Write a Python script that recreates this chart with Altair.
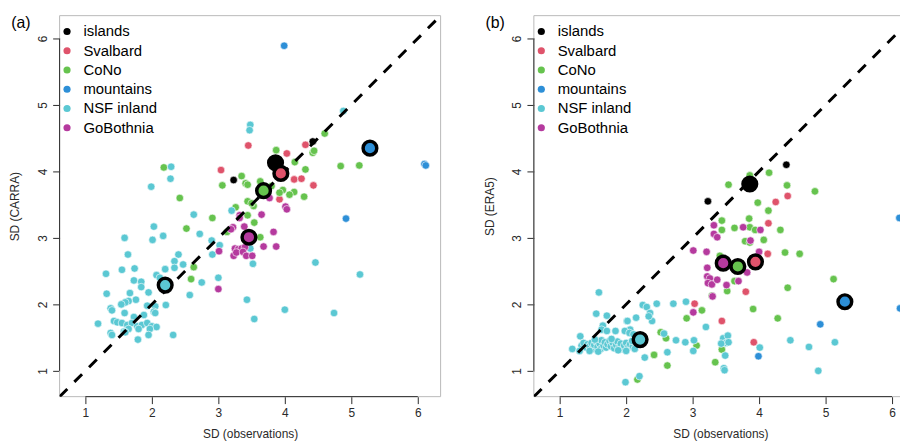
import altair as alt
import pandas as pd

groups = ["islands", "Svalbard", "CoNo", "mountains", "NSF inland", "GoBothnia"]
colors = ["#000000", "#DF536B", "#66C34E", "#2D8FD7", "#5BC8D3", "#B53A9E"]
ticks = [1, 2, 3, 4, 5, 6]

# ---------------- panel (a): SD(observations) vs SD(CARRA) ----------------
carra_islands = [(4.42, 4.45), (3.23, 3.87)]
carra_svalbard = [(3.45, 4.39), (4.31, 4.40), (4.03, 4.27), (3.04, 4.02), (4.14, 3.88),
                  (4.25, 3.89), (4.43, 3.79), (3.92, 3.58)]
carra_cono = [(4.60, 4.57), (4.42, 4.28), (4.44, 4.31), (3.87, 4.32), (4.15, 4.14), (4.31, 4.03),
              (4.84, 4.08), (5.12, 4.09), (3.35, 3.93), (3.41, 3.82), (3.44, 3.80), (3.06, 3.79),
              (3.63, 3.85), (3.97, 3.72), (4.14, 3.69), (4.07, 3.65), (4.29, 3.62), (3.92, 3.68),
              (3.44, 3.55), (3.53, 3.48), (3.26, 3.46), (3.44, 3.34), (3.54, 3.23), (2.91, 3.30),
              (2.52, 3.14), (3.13, 3.09), (3.63, 3.01), (2.18, 4.06), (2.42, 3.60), (2.63, 2.56),
              (2.59, 2.38), (3.80, 3.78), (3.50, 3.52)]
carra_mountains = [(3.99, 5.89), (6.10, 4.11), (6.12, 4.09), (4.92, 3.29)]
carra_nsf = [(4.88, 4.91), (3.48, 4.70), (3.47, 4.62), (2.29, 4.07), (2.28, 3.89), (1.99, 3.77),
             (2.63, 3.35), (3.20, 3.41), (2.72, 3.06), (2.03, 3.17), (1.59, 3.00), (2.01, 2.97),
             (2.17, 3.03), (2.90, 2.96), (3.02, 2.89), (2.91, 2.75), (3.48, 2.84), (3.52, 2.61),
             (4.46, 2.63), (5.13, 2.45), (1.64, 2.75), (2.40, 2.75), (2.34, 2.65), (2.34, 2.55),
             (2.47, 2.60), (1.55, 2.52), (1.74, 2.54), (1.31, 2.46), (2.20, 2.53), (3.00, 2.40),
             (2.75, 2.33), (2.57, 2.14), (3.43, 2.07), (4.00, 1.92), (4.74, 1.87), (3.54, 1.78),
             (2.32, 1.54), (2.07, 2.44), (1.95, 2.18), (1.67, 2.17), (1.32, 2.16), (1.73, 2.36),
             (1.84, 2.34), (1.84, 2.26), (1.76, 2.07), (1.65, 2.05), (1.60, 2.03), (1.54, 2.00),
             (1.93, 1.98), (2.05, 1.97), (2.21, 1.99), (1.38, 1.94), (1.40, 1.91), (1.59, 1.87),
             (1.73, 1.81), (1.88, 1.84), (2.03, 1.89), (2.05, 1.87), (1.19, 1.71), (1.43, 1.75),
             (1.48, 1.73), (1.55, 1.72), (1.63, 1.69), (1.70, 1.72), (1.78, 1.67), (1.85, 1.69),
             (1.93, 1.72), (2.00, 1.67), (2.07, 1.66), (1.97, 1.63), (1.80, 1.63), (1.65, 1.63),
             (1.58, 1.59), (1.95, 1.54), (1.38, 1.57), (1.40, 1.54), (1.60, 1.58), (1.79, 1.47),
             (2.12, 2.40)]
carra_gobothnia = [(3.32, 3.34), (3.32, 3.30), (3.65, 3.35), (4.01, 3.47), (4.03, 3.43), (3.77, 3.60),
                   (3.22, 3.16), (3.39, 3.17), (3.19, 3.13), (3.83, 3.09), (3.87, 2.87), (3.68, 2.87),
                   (3.25, 2.84), (3.30, 2.83), (3.35, 2.84), (3.40, 2.86), (3.23, 2.73), (3.27, 2.78),
                   (3.37, 2.79), (3.42, 2.73), (3.51, 2.73), (3.01, 2.80), (3.00, 2.23)]
carra_mean_x = [3.86, 3.94, 3.68, 5.28, 2.20, 3.46]
carra_mean_y = [4.13, 3.97, 3.71, 4.35, 2.29, 3.01]

# ---------------- panel (b): SD(observations) vs SD(ERA5) ----------------
era5_islands = [(4.41, 4.10), (3.23, 3.55)]
era5_svalbard = [(4.43, 3.63), (4.25, 3.54), (4.14, 3.22), (4.13, 2.76), (3.80, 2.19),
                 (3.03, 2.01), (3.44, 1.75), (3.92, 1.43)]
era5_cono = [(3.54, 3.80), (4.15, 3.98), (3.86, 3.94), (4.42, 3.79), (4.84, 3.70), (3.98, 3.53),
             (4.14, 3.41), (3.44, 3.26), (3.85, 3.29), (3.44, 3.12), (3.63, 3.15), (3.86, 3.16),
             (3.94, 3.12), (4.32, 3.12), (3.79, 2.95), (3.86, 2.93), (4.07, 2.97), (3.41, 2.73),
             (4.39, 2.78), (4.61, 2.76), (3.63, 2.35), (3.52, 2.20), (4.43, 2.25), (3.29, 2.13),
             (5.12, 2.38), (3.14, 1.91), (3.91, 1.93), (2.91, 1.79), (4.28, 1.79), (2.52, 1.58),
             (2.60, 1.49), (3.06, 1.38), (3.44, 1.32), (3.34, 1.13), (2.42, 1.24), (2.62, 1.08),
             (2.17, 0.87)]
era5_mountains = [(6.11, 3.30), (6.12, 1.94), (4.92, 1.70), (3.99, 1.22)]
era5_nsf = [(1.59, 2.18), (1.55, 1.86), (1.71, 1.83), (1.65, 1.68), (1.63, 1.62), (1.71, 1.60),
            (1.84, 1.60), (2.01, 1.75), (2.15, 1.80), (2.06, 1.62), (1.98, 1.60), (2.25, 1.99),
            (2.31, 1.96), (2.36, 1.87), (2.39, 1.75), (2.46, 2.01), (2.34, 1.82), (2.71, 2.01),
            (2.90, 2.04), (3.20, 1.66), (1.31, 1.52), (1.19, 1.33), (2.02, 1.75),
            (1.33, 1.38), (1.36, 1.42), (1.40, 1.35), (1.42, 1.40), (1.45, 1.37), (1.48, 1.42),
            (1.50, 1.33), (1.52, 1.39), (1.55, 1.44), (1.57, 1.36), (1.60, 1.41), (1.62, 1.33),
            (1.63, 1.46), (1.66, 1.38), (1.68, 1.43), (1.70, 1.35), (1.72, 1.40), (1.75, 1.45),
            (1.77, 1.37), (1.80, 1.42), (1.82, 1.34), (1.85, 1.39), (1.87, 1.44), (1.90, 1.36),
            (1.92, 1.41), (1.95, 1.33), (1.97, 1.38), (2.00, 1.42), (2.03, 1.35), (2.06, 1.40),
            (2.10, 1.37), (2.13, 1.33), (1.30, 1.30), (1.45, 1.30), (1.58, 1.29), (1.88, 1.31),
            (2.00, 1.30), (1.78, 1.48), (1.53, 1.47), (2.09, 1.45), (2.05, 1.57), (2.11, 1.55),
            (2.28, 1.20), (2.62, 1.28), (2.75, 1.46), (2.89, 1.43), (3.02, 1.46), (3.01, 1.30),
            (2.57, 1.56), (1.99, 0.83), (2.20, 0.92), (3.46, 1.49), (3.53, 1.53), (3.50, 1.42),
            (3.43, 1.41), (3.54, 1.43), (3.49, 1.23), (3.47, 1.04), (3.48, 1.01), (4.01, 1.35),
            (4.47, 1.46), (4.75, 1.36), (5.14, 1.43), (4.89, 1.00)]
era5_gobothnia = [(3.32, 3.19), (3.76, 3.16), (4.02, 3.12), (3.32, 3.06), (3.37, 3.01), (3.87, 2.96),
                  (3.01, 2.81), (3.21, 2.79), (4.00, 2.79), (3.22, 2.55), (3.82, 2.48), (3.22, 2.42),
                  (3.26, 2.39), (3.23, 2.32), (3.29, 2.30), (3.37, 2.37), (3.69, 2.35), (3.51, 2.29),
                  (3.30, 2.12), (3.01, 1.88)]
era5_mean_x = [3.86, 3.945, 3.68, 5.29, 2.21, 3.46]
era5_mean_y = [3.81, 2.64, 2.57, 2.04, 1.47, 2.62]

panel_tags = ["(a)", "(b)"]

# axis limits
x_lim_a = [0.612, 6.343]
x_lim_b = [0.612, 6.224]
y_lim = [0.612, 6.343]

FONT = "Liberation Sans"
BOX = "#b9b9b9"
INK = "#2a2a2a"


def build_points(series):
    rows = []
    for g, pts in zip(groups, series):
        for (x, y) in pts:
            rows.append({"x": x, "y": y, "group": g})
    return pd.DataFrame(rows)


def panel(series, mean_x, mean_y, xlim, width, ytitle, tag, right_border):
    xs = alt.Scale(domain=xlim, nice=False, zero=False)
    ys = alt.Scale(domain=y_lim, nice=False, zero=False)
    xax = alt.Axis(values=ticks, format="d", title="SD (observations)", domain=False, grid=False,
                   tickSize=7, labelPadding=4, titlePadding=10, labelFlush=False)
    yax = alt.Axis(values=ticks, format="d", title=ytitle, domain=False, grid=False,
                   tickSize=7, labelAngle=270, labelAlign="center", labelBaseline="bottom",
                   labelPadding=3, titlePadding=15, labelFlush=False)
    X = alt.X("x:Q", scale=xs, axis=xax)
    Y = alt.Y("y:Q", scale=ys, axis=yax)
    cscale = alt.Scale(domain=groups, range=colors)

    layers = []
    # light box around the plotting region
    layers.append(alt.Chart(pd.DataFrame({"y": [y_lim[0], y_lim[1]]}))
                  .mark_rule(color=BOX, strokeWidth=1).encode(y=Y))
    xb = [xlim[0], xlim[1]] if right_border else [xlim[0]]
    layers.append(alt.Chart(pd.DataFrame({"x": xb}))
                  .mark_rule(color=BOX, strokeWidth=1).encode(x=X))
    # R-style axis lines spanning the tick range
    layers.append(alt.Chart(pd.DataFrame({"x": [ticks[0]], "x2": [ticks[-1]], "y": [y_lim[0]]}))
                  .mark_rule(color=INK, strokeWidth=1).encode(x=X, x2="x2:Q", y=Y))
    layers.append(alt.Chart(pd.DataFrame({"y": [ticks[0]], "y2": [ticks[-1]], "x": [xlim[0]]}))
                  .mark_rule(color=INK, strokeWidth=1).encode(y=Y, y2="y2:Q", x=X))

    df = build_points(series)
    layers.append(alt.Chart(df).mark_circle(size=58, opacity=1, stroke="white", strokeWidth=0.6)
                  .encode(x=X, y=Y,
                          color=alt.Color("group:N", scale=cscale,
                                          legend=alt.Legend(title=None, orient="none", legendX=0,
                                                            legendY=8.5, padding=0, labelFontSize=15,
                                                            labelFont=FONT, labelColor="black",
                                                            symbolType="circle", symbolSize=52,
                                                            symbolStrokeWidth=0, rowPadding=3.4,
                                                            labelOffset=9))))
    # 1:1 line
    layers.append(alt.Chart(pd.DataFrame({"x": [y_lim[0], 7.0], "y": [y_lim[0], 7.0]}))
                  .mark_line(color="black", strokeDash=[11, 10], strokeWidth=3, clip=True)
                  .encode(x=X, y=Y))
    mdf = pd.DataFrame({"x": mean_x, "y": mean_y, "group": groups})
    layers.append(alt.Chart(mdf).mark_circle(size=190, opacity=1, stroke="black", strokeWidth=3.5)
                  .encode(x=X, y=Y, color=alt.Color("group:N", scale=cscale, legend=None)))
    # panel tag, placed outside the top-left corner
    layers.append(alt.Chart(pd.DataFrame({"tag": [tag]}))
                  .mark_text(font=FONT, fontSize=16, color="black", align="center", baseline="middle")
                  .encode(text="tag:N", x=alt.value(-39), y=alt.value(7)))

    return alt.layer(*layers).properties(width=width, height=384)


pa = panel([carra_islands, carra_svalbard, carra_cono, carra_mountains, carra_nsf, carra_gobothnia],
           carra_mean_x, carra_mean_y, x_lim_a, 384, "SD (CARRA)", panel_tags[0], True)
pb = panel([era5_islands, era5_svalbard, era5_cono, era5_mountains, era5_nsf, era5_gobothnia],
           era5_mean_x, era5_mean_y, x_lim_b, 376, "SD (ERA5)", panel_tags[1], False)

chart = (alt.hconcat(pa, pb, spacing=41)
         .resolve_scale(x="independent", y="independent", color="independent")
         .properties(padding={"left": 0, "top": 4, "right": -8, "bottom": 0})
         .configure_view(stroke="transparent")
         .configure_axis(labelFont=FONT, titleFont=FONT, labelFontSize=12, titleFontSize=12,
                         labelColor=INK, titleColor=INK, titleFontWeight="normal",
                         tickColor=INK, tickWidth=1))

chart.save("out.html", embed_options={"renderer": "svg", "actions": False})
